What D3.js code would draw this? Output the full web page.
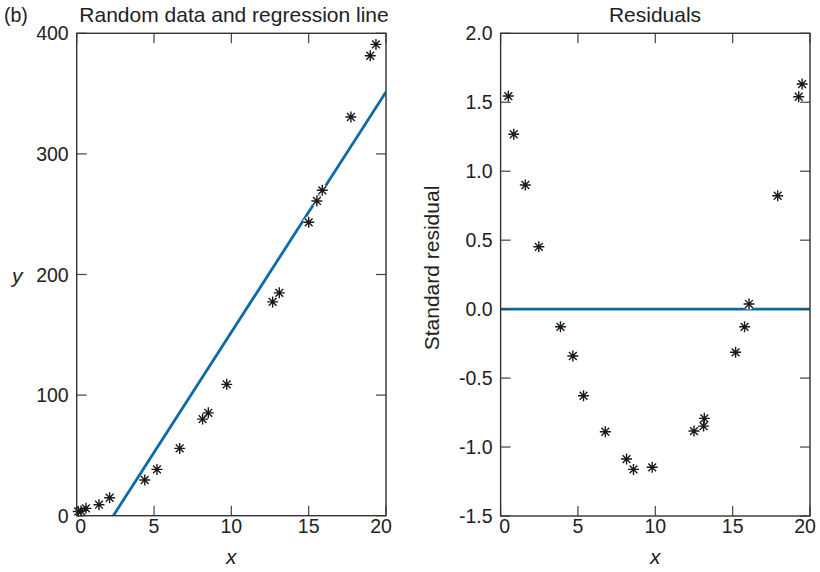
<!DOCTYPE html>
<html><head><meta charset="utf-8">
<script src="https://cdn.jsdelivr.net/npm/d3@7"></script>
<style>body{margin:0;background:#fff}svg{display:block}text{font-family:"Liberation Sans",Arial,sans-serif;fill:#222}</style>
</head><body><svg id="c" width="820" height="572"></svg>
<script>
// Left panel data
const dataX = [0.10, 0.28, 0.60, 1.44, 2.13, 4.40, 5.19, 6.66, 8.14, 8.51, 9.70, 12.67, 13.10, 15.00, 15.53, 15.88, 17.73, 18.98, 19.35];
const dataY = [3.5, 3.9, 6.1, 9.1, 14.9, 29.6, 38.4, 55.8, 80.1, 85.3, 108.9, 177.3, 184.8, 243.3, 261.0, 269.8, 330.6, 381.4, 390.8];
// regression line y = a + b x
const regA = -47.2, regB = 19.93;
// Right panel data
const resX = [0.50, 0.85, 1.60, 2.47, 3.87, 4.67, 5.36, 6.77, 8.14, 8.59, 9.80, 12.50, 13.12, 13.17, 15.19, 15.77, 16.06, 17.91, 19.27, 19.49];
const resY = [1.545, 1.268, 0.900, 0.452, -0.128, -0.340, -0.628, -0.889, -1.087, -1.162, -1.147, -0.884, -0.848, -0.792, -0.313, -0.128, 0.037, 0.822, 1.540, 1.632];
const xTicks = [0, 5, 10, 15, 20];
const yTicksL = [0, 100, 200, 300, 400];
const yTicksR = [2.0, 1.5, 1.0, 0.5, 0.0, -0.5, -1.0, -1.5];

const svg = d3.select("#c");
const blue = "#0e6aa6";
const star = "M-5.5,0H5.5M0,-5.5V5.5M-3.9,-3.9L3.9,3.9M-3.9,3.9L3.9,-3.9";

function panel(o) {
  const x = d3.scaleLinear().domain([0, 20]).range([o.x0, o.x1]);
  const y = d3.scaleLinear().domain(o.ydom).range([o.y1, o.y0]);
  const g = svg.append("g");
  const cid = "clip" + o.id;
  svg.append("clipPath").attr("id", cid).append("rect")
    .attr("x", o.x0).attr("y", o.y0).attr("width", o.x1 - o.x0).attr("height", o.y1 - o.y0);
  g.append("path").attr("clip-path", `url(#${cid})`)
    .attr("d", d3.line().x(d => x(d[0])).y(d => y(d[1]))(o.line))
    .attr("stroke", blue).attr("stroke-width", 2.8).attr("fill", "none");
  const pts = o.xs.map((v, i) => [v, o.ys[i]]);
  g.selectAll("path.h").data(pts).join("path").attr("class", "h")
    .attr("d", star).attr("transform", d => `translate(${x(d[0])},${y(d[1])})`)
    .attr("stroke", "#fff").attr("stroke-width", 4).attr("fill", "none");
  g.selectAll("path.m").data(pts).join("path").attr("class", "m")
    .attr("d", star).attr("transform", d => `translate(${x(d[0])},${y(d[1])})`)
    .attr("stroke", "#1a1a1a").attr("stroke-width", 1.4).attr("fill", "none");
  const tk = g.append("g").attr("stroke", "#444").attr("stroke-width", 1.2);
  xTicks.forEach(t => {
    tk.append("line").attr("x1", x(t)).attr("x2", x(t)).attr("y1", o.y1).attr("y2", o.y1 - 10);
    tk.append("line").attr("x1", x(t)).attr("x2", x(t)).attr("y1", o.y0).attr("y2", o.y0 + 10);
  });
  o.yt.forEach(t => {
    tk.append("line").attr("x1", o.x0).attr("x2", o.x0 + 10).attr("y1", y(t)).attr("y2", y(t));
    tk.append("line").attr("x1", o.x1).attr("x2", o.x1 - 10).attr("y1", y(t)).attr("y2", y(t));
  });
  g.append("rect").attr("x", o.x0).attr("y", o.y0).attr("width", o.x1 - o.x0).attr("height", o.y1 - o.y0)
    .attr("fill", "none").attr("stroke", "#333").attr("stroke-width", 1.4);
  xTicks.forEach((t, i) => {
    const dx = i === 0 ? 4 : (i === xTicks.length - 1 ? -5 : 0);
    g.append("text").attr("x", x(t) + dx).attr("y", o.y1 + 17).attr("text-anchor", "middle")
      .attr("font-size", 19.5).text(t);
  });
  o.yt.forEach(t => {
    g.append("text").attr("x", o.x0 - 8).attr("y", y(t) + 7).attr("text-anchor", "end")
      .attr("font-size", 19.5).text(o.fmt(t));
  });
  g.append("text").attr("x", (o.x0 + o.x1) / 2).attr("y", 564).attr("text-anchor", "middle")
    .attr("font-size", 21).attr("font-style", "italic").text("x");
  g.append("text").attr("x", o.tx).attr("y", 22).attr("text-anchor", "middle")
    .attr("font-size", 21).text(o.title);
}

panel({id: "L", x0: 76.7, x1: 386, y0: 33.3, y1: 515.7, ydom: [0, 400], yt: yTicksL,
  xs: dataX, ys: dataY, line: [[0, regA], [20, regA + regB * 20]],
  fmt: d => d, title: "Random data and regression line", tx: 234});
panel({id: "R", x0: 500.6, x1: 810, y0: 33.3, y1: 516, ydom: [-1.5, 2.0], yt: yTicksR,
  xs: resX, ys: resY, line: [[0, 0], [20, 0]],
  fmt: d => d3.format(".1f")(d).replace("\u2212", "-"), title: "Residuals", tx: 655});

svg.append("text").attr("x", 4).attr("y", 22).attr("font-size", 19.5).text("(b)");
svg.append("text").attr("x", 12).attr("y", 283).attr("font-size", 21).attr("font-style", "italic").text("y");
svg.append("text").attr("transform", "translate(439,268) rotate(-90)").attr("text-anchor", "middle")
  .attr("font-size", 21).text("Standard residual");
</script></body></html>
